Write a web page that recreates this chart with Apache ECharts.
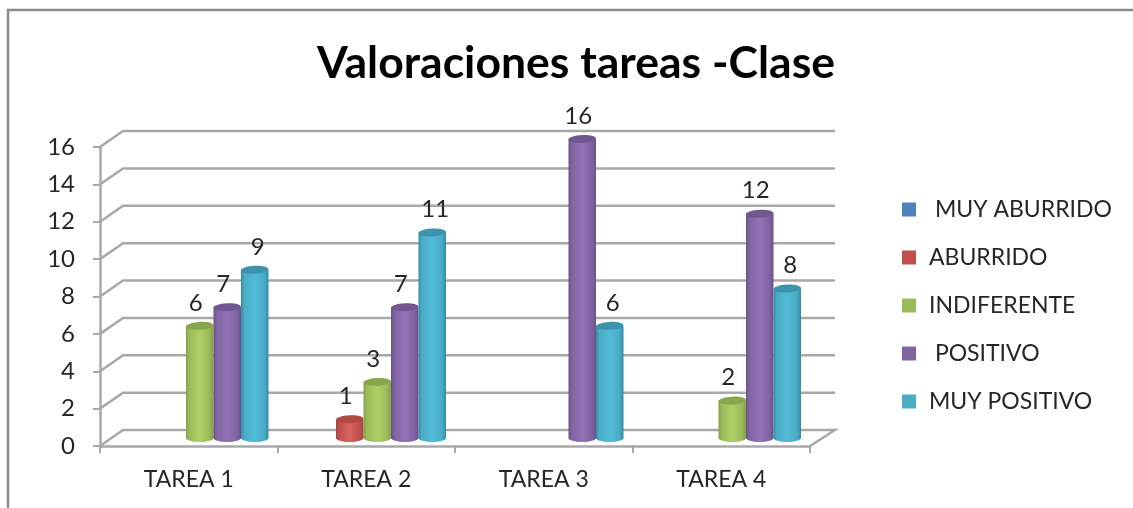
<!DOCTYPE html>
<html>
<head>
<meta charset="utf-8">
<script src="https://cdn.jsdelivr.net/npm/echarts@6/dist/echarts.min.js"></script>
<style>
html, body { margin:0; padding:0; background:#fff; }
#chart { width:1133px; height:508px; }
</style>
</head>
<body>
<div id="chart"></div>
<script>
var categories = ['TAREA 1', 'TAREA 2', 'TAREA 3', 'TAREA 4'];
var yTicks = [0, 2, 4, 6, 8, 10, 12, 14, 16];
var muyAburrido = [null, null, null, null];
var aburrido = [null, 1, null, null];
var indiferente = [6, 3, null, 2];
var positivo = [7, 7, 16, 12];
var muyPositivo = [9, 11, 6, 8];

var fontName = 'Lato';
var textColor = '#262626';
var wallColor = '#a8a8a8';
var barW = 27.5;
var depth = [23, -16]; // fondo de la pared 3D
var barShift = [11, -8]; // los cilindros van en medio del suelo

var myChart = echarts.init(document.getElementById('chart'));

// colores: base, claro, oscuro, tapa
var seriesDefs = [
	{ name : ' MUY ABURRIDO', data : muyAburrido, color : ['#4f81bd', '#6f9bd0', '#39618f', '#3f6a9c'], labelDx : -4 },
	{ name : 'ABURRIDO', data : aburrido, color : ['#c0504d', '#d8625e', '#a8423f', '#b24744'], labelDx : -4 },
	{ name : 'INDIFERENTE', data : indiferente, color : ['#9bbb59', '#afd066', '#84a04a', '#88a64c'], labelDx : -4 },
	{ name : ' POSITIVO', data : positivo, color : ['#8064a2', '#9373b8', '#6a5288', '#705791'], labelDx : -4 },
	{ name : 'MUY POSITIVO', data : muyPositivo, color : ['#4bacc6', '#51bbd8', '#338ba3', '#3d93ab'], labelDx : 3 }
];

function renderWall(params, api) {
	var v = api.value(0);
	var band = api.size([1, 0])[0];
	var p0 = api.coord([0, v]);
	var p1 = api.coord([categories.length - 1, v]);
	var left = p0[0] - band / 2;
	var right = p1[0] + band / 2;
	var y = p0[1];
	var pts = [[left, y], [left + depth[0], y + depth[1]], [right + depth[0] + 2, y + depth[1]]];
	if (v === 0) {
		pts.push([right, y]);
	}
	return {
		type : 'polyline',
		shape : { points : pts },
		style : { fill : null, stroke : wallColor, lineWidth : 2.5 }
	};
}

function renderBar(idx, def) {
	return function(params, api) {
		var value = api.value(1);
		if (isNaN(value) || value === null) {
			return;
		}
		var c = api.coord([api.value(0), value]);
		var base = api.coord([api.value(0), 0]);
		var cx = c[0] + barShift[0] + (idx - 2) * barW;
		var top = c[1] + barShift[1];
		var bottom = base[1] + barShift[1];
		var rx = barW / 2;
		var ry = 4;
		var side = new echarts.graphic.LinearGradient(0, 0, 1, 0, [
			{ offset : 0, color : def.color[2] },
			{ offset : 0.12, color : def.color[0] },
			{ offset : 0.5, color : def.color[1] },
			{ offset : 0.85, color : def.color[0] },
			{ offset : 1, color : def.color[2] }
		]);
		return {
			type : 'group',
			children : [ {
				type : 'ellipse',
				shape : { cx : cx, cy : bottom, rx : rx, ry : ry },
				style : { fill : side }
			}, {
				type : 'rect',
				shape : { x : cx - rx, y : top, width : barW, height : bottom - top },
				style : { fill : side }
			}, {
				type : 'ellipse',
				originX : cx,
				originY : top,
				rotation : 0.05,
				shape : { cx : cx, cy : top, rx : rx, ry : ry },
				style : { fill : def.color[3] }
			}, {
				type : 'text',
				z2 : 10,
				style : {
					text : String(value),
					x : cx + def.labelDx,
					y : top - 23,
					align : 'center',
					verticalAlign : 'middle',
					fontFamily : fontName,
					fontSize : 24,
					fill : textColor
				}
			} ]
		};
	};
}

var series = [ {
	name : 'pared',
	type : 'custom',
	silent : true,
	z : 1,
	coordinateSystem : 'cartesian2d',
	encode : { y : 0 },
	data : yTicks.map(function(v) { return [v]; }),
	renderItem : renderWall
} ];

seriesDefs.forEach(function(def, idx) {
	series.push({
		name : def.name,
		type : 'custom',
		z : 3,
		coordinateSystem : 'cartesian2d',
		itemStyle : { color : def.color[0] },
		encode : { x : 0, y : 1 },
		data : categories.map(function(c, i) {
			return [i, def.data[i] === null ? '-' : def.data[i]];
		}),
		renderItem : renderBar(idx, def)
	});
});

var option = {
	animation : false,
	title : {
		text : 'Valoraciones tareas -Clase',
		left : 571,
		top : 36,
		textAlign : 'center',
		textStyle : { fontFamily : fontName, fontSize : 44.5, fontWeight : 'bold', color : '#000' }
	},
	legend : {
		orient : 'vertical',
		left : 897,
		top : 193,
		itemWidth : 14,
		itemHeight : 14,
		itemGap : 25,
		icon : 'rect',
		selectedMode : false,
		data : seriesDefs.map(function(d) { return d.name; }),
		textStyle : { fontFamily : fontName, fontSize : 23, color : textColor, padding : [0, 0, 0, 8] }
	},
	grid : { left : 100, right : 323, top : 147, bottom : 62 },
	xAxis : {
		type : 'category',
		data : categories,
		axisLine : { lineStyle : { color : wallColor, width : 2.5 } },
		axisTick : { show : true, length : 7, lineStyle : { color : wallColor, width : 2 } },
		axisLabel : { margin : 22, fontFamily : fontName, fontSize : 23, color : textColor }
	},
	yAxis : {
		type : 'value',
		min : 0,
		max : 16,
		interval : 2,
		splitLine : { show : false },
		axisLine : { show : true, lineStyle : { color : wallColor, width : 2.5 } },
		axisTick : { show : true, length : 7, lineStyle : { color : wallColor, width : 2 } },
		axisLabel : { margin : 25, fontFamily : fontName, fontSize : 24, color : textColor }
	},
	graphic : [ {
		type : 'polyline',
		shape : { points : [[8, 508], [8, 10], [1133, 10]] },
		style : { fill : null, stroke : '#8c8c8c', lineWidth : 2.5 },
		silent : true
	} ],
	series : series
};
myChart.setOption(option);
</script>
</body>
</html>
